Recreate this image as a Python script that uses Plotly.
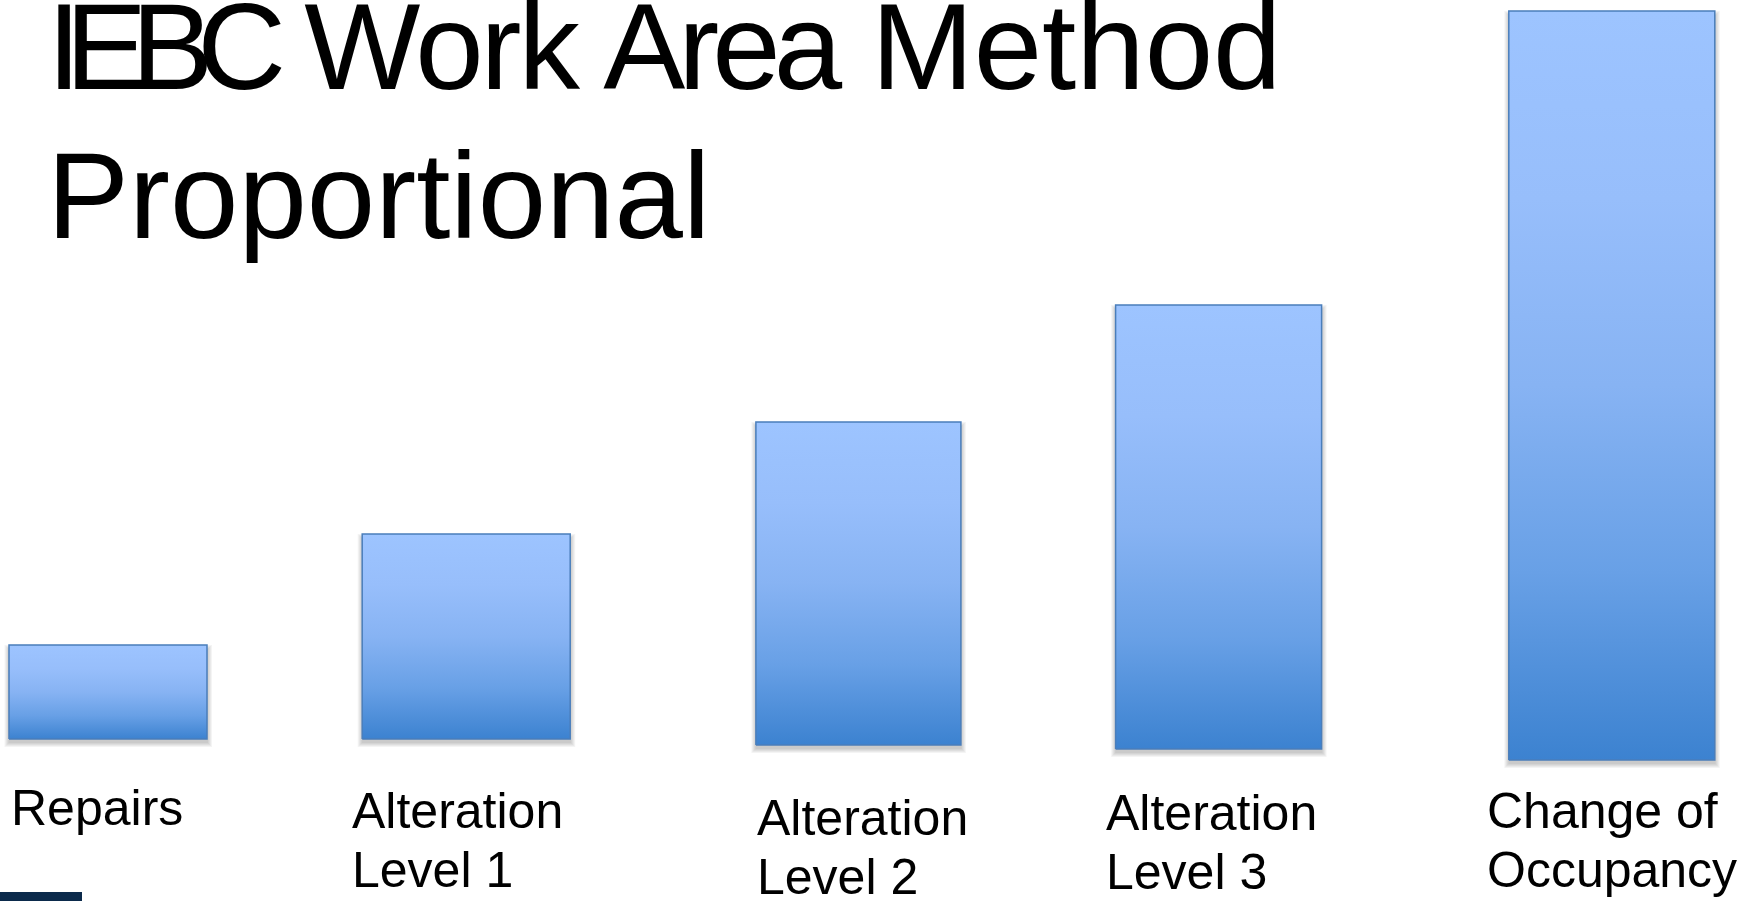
import plotly.graph_objects as go

# ---------------- data ----------------
categories = ["Repairs", "Alteration Level 1", "Alteration Level 2",
              "Alteration Level 3", "Change of Occupancy"]
tick_labels = ["Repairs", "Alteration<br>Level 1", "Alteration<br>Level 2",
               "Alteration<br>Level 3", "Change of<br>Occupancy"]
values = [94, 205, 323, 444, 749]      # relative bar heights
bases = [1, 1, -5, -9, -20]            # where each bar starts

title_line1 = ('<span style="letter-spacing:-16px">IEBC</span> '
               '<span style="letter-spacing:-3px">Wor</span>'
               '<span style="letter-spacing:-5.5px">k </span>'
               '<span style="letter-spacing:-7px">Are</span>'
               '<span style="letter-spacing:-5px">a</span> Method')
title_line2 = "Proportional"

# ---------------- layout constants ----------------
W, H = 1754, 901
SLOT_PX = 376.2          # pixels per category slot
FIRST_CENTER_PX = 100    # pixel x of first category
BASE_PX = 740            # pixel y of value 0
bar_nudge_px = [8, -10, 6, -10, 7]
bar_width_px = [198, 208, 205, 206, 206]
label_dx_px = [0, -12, -1, -12, -24]
label_baseline_px = [825, 828, 835, 830, 828]
LABEL_FONT = 50
LABEL_LINE_PX = 59
TITLE_FONT = 123
TITLE_X_PX = 45

FONT = "Liberation Sans, Arial, sans-serif"
grad = [[0.0, "#3C82D0"], [0.25, "#68A0E6"], [0.5, "#87B3F3"],
        [0.75, "#97BEFB"], [1.0, "#9DC4FF"]]
edge = "#4A7EBB"

fig = go.Figure()

for i, (v, b) in enumerate(zip(values, bases)):
    cx = i + bar_nudge_px[i] / SLOT_PX
    hw = bar_width_px[i] / 2 / SLOT_PX
    x0, x1 = cx - hw, cx + hw
    y0, y1 = b, b + v
    # soft shadow
    for e in [5, 4, 3, 2, 1]:
        ex = e / SLOT_PX
        dy = 3
        fig.add_trace(go.Scatter(
            x=[x0 - ex + 0.5 / SLOT_PX, x1 + ex, x1 + ex, x0 - ex + 0.5 / SLOT_PX, x0 - ex + 0.5 / SLOT_PX],
            y=[y0 - dy - e, y0 - dy - e, y1 - dy + e - 2, y1 - dy + e - 2, y0 - dy - e],
            fill="toself", fillcolor="rgba(0,0,0,0.045)", mode="lines",
            line=dict(width=0, color="rgba(0,0,0,0)"), hoverinfo="skip",
            showlegend=False))
    fig.add_trace(go.Scatter(
        x=[x0, x1, x1, x0, x0], y=[y0, y0, y1, y1, y0],
        fill="toself", fillgradient=dict(type="vertical", colorscale=grad),
        mode="lines", line=dict(color=edge, width=1.5),
        name=categories[i], hovertemplate=categories[i] + "<extra></extra>",
        showlegend=False))
    # label
    lines = tick_labels[i].split("<br>")
    for k, line in enumerate(lines):
        base_px = label_baseline_px[i] + k * LABEL_LINE_PX
        top_px = base_px - 0.905 * LABEL_FONT - 2
        fig.add_annotation(
            x=x0 + label_dx_px[i] / SLOT_PX, xref="x", xanchor="left",
            y=BASE_PX - top_px, yref="y", yanchor="top",
            text=line, showarrow=False,
            font=dict(family=FONT, size=LABEL_FONT, color="#000000"))

# title
for k, (txt, base_px) in enumerate([(title_line1, 89), (title_line2, 238)]):
    top_px = base_px - 0.905 * TITLE_FONT - 2
    fig.add_annotation(
        x=TITLE_X_PX / W, xref="paper", xanchor="left",
        y=1 - top_px / H, yref="paper", yanchor="top",
        text=txt, showarrow=False,
        font=dict(family=FONT, size=TITLE_FONT, color="#000000"))

fig.add_shape(type="rect", xref="paper", yref="paper",
              x0=0, x1=82 / W, y0=0, y1=9 / H,
              fillcolor="#0B2A4B", line=dict(width=0), layer="above")

fig.update_layout(
    width=W, height=H,
    margin=dict(l=0, r=0, t=0, b=0),
    paper_bgcolor="white", plot_bgcolor="white",
    xaxis=dict(range=[-FIRST_CENTER_PX / SLOT_PX, (W - FIRST_CENTER_PX) / SLOT_PX],
               visible=False, fixedrange=True),
    yaxis=dict(range=[BASE_PX - H, BASE_PX], visible=False, fixedrange=True),
    showlegend=False,
)

fig.write_html("out.html")
